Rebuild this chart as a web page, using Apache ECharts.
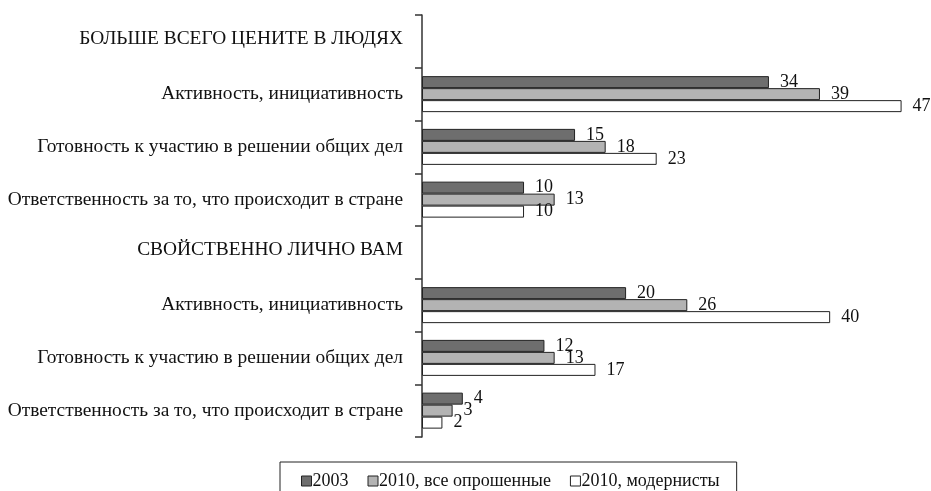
<!DOCTYPE html>
<html>
<head>
<meta charset="utf-8">
<script src="https://cdn.jsdelivr.net/npm/echarts@6/dist/echarts.min.js"></script>
<style>
  html, body { margin: 0; padding: 0; background: #fff; }
  #chart { width: 931px; height: 491px; }
</style>
</head>
<body>
<div id="chart"></div>
<script>
// категории сверху вниз (заголовки разделов без столбиков)
const categories = [
    "БОЛЬШЕ ВСЕГО ЦЕНИТЕ В ЛЮДЯХ",
    "Активность, инициативность",
    "Готовность к участию в решении общих дел",
    "Ответственность за то, что происходит в стране",
    "СВОЙСТВЕННО ЛИЧНО ВАМ",
    "Активность, инициативность",
    "Готовность к участию в решении общих дел",
    "Ответственность за то, что происходит в стране"
]
const headers = [0, 4]
const seriesNames = ["2003", "2010, все опрошенные", "2010, модернисты"]
const v2003 = [null, 34, 15, 10, null, 20, 12, 4]
const v2010all = [null, 39, 18, 13, null, 26, 13, 3]
const v2010mod = [null, 47, 23, 10, null, 40, 17, 2]
const colorList = ["#6e6e6e", "#b3b3b3", "#ffffff"]

var myChart = echarts.init(document.getElementById('chart'));

function makeSeries(name, data, color) {
    return {
        name: name,
        type: 'bar',
        data: data,
        barWidth: 12,
        barGap: '0%',
        itemStyle: { color: color, borderColor: '#222', borderWidth: 1 },
        label: {
            show: true,
            position: 'right',
            distance: 11,
            color: '#111',
            fontFamily: 'Liberation Serif',
            fontSize: 18
        },
        emphasis: { disabled: true }
    };
}

var option = {
    animation: false,
    grid: { left: 422, right: 9, top: 15, height: 422 },
    xAxis: {
        type: 'value',
        min: 0,
        max: 49,
        show: false
    },
    yAxis: {
        type: 'category',
        inverse: true,
        data: categories,
        axisLine: { show: true, lineStyle: { color: '#333', width: 1.5 } },
        axisTick: { show: true, length: 7, lineStyle: { color: '#333', width: 1.5 } },
        axisLabel: {
            margin: 19,
            color: '#111',
            fontFamily: 'Liberation Serif',
            fontSize: 19.4,
            formatter: function (val, idx) {
                return headers.indexOf(idx) >= 0 ? '{h|' + val + '}' : val;
            },
            rich: {
                h: { fontFamily: 'Liberation Serif', fontSize: 19.4, color: '#111', padding: [0, 0, 4, 0] }
            }
        }
    },
    legend: {
        top: 462,
        left: 280,
        itemWidth: 10,
        itemHeight: 10,
        itemGap: 19,
        icon: 'rect',
        borderColor: '#222',
        borderWidth: 1,
        padding: [10, 17, 4, 21],
        itemStyle: { borderColor: '#222', borderWidth: 1 },
        textStyle: { fontFamily: 'Liberation Serif', fontSize: 18, color: '#111', padding: [0, 0, 0, -4] },
        data: seriesNames
    },
    series: [
        makeSeries(seriesNames[0], v2003, colorList[0]),
        makeSeries(seriesNames[1], v2010all, colorList[1]),
        makeSeries(seriesNames[2], v2010mod, colorList[2])
    ]
};
myChart.setOption(option);
</script>
</body>
</html>
